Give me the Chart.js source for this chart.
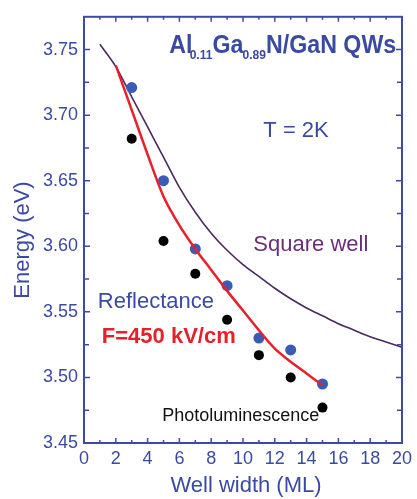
<!DOCTYPE html>
<html>
<head>
<meta charset="utf-8">
<script src="https://cdn.jsdelivr.net/npm/chart.js@4.4.1/dist/chart.umd.min.js"></script>
<style>
  html, body { margin: 0; padding: 0; background: #ffffff; }
  canvas { display: block; }
</style>
</head>
<body>
<canvas id="c" width="417" height="499"></canvas>
<script>
// ---- data ----
const wellWidths = [3, 5, 7, 9, 11, 13, 15];
const reflectance = [3.721, 3.650, 3.598, 3.570, 3.530, 3.521, 3.495];
const photoluminescence = [3.682, 3.604, 3.579, 3.544, 3.517, 3.500, 3.477];

const fitX = [2, 3, 4, 5, 6, 7, 8, 9, 10, 11, 12, 13, 14, 15];
const fitF450 = [3.738, 3.704, 3.670, 3.638, 3.616, 3.598, 3.582, 3.566, 3.551, 3.536, 3.522, 3.512, 3.503, 3.494];

const squareX = [1, 2, 3, 4, 5, 6, 7, 8, 9, 10, 11, 12, 13, 14, 15, 16, 17, 18, 19, 20];
const squareWell = [3.754, 3.737, 3.714, 3.691, 3.668, 3.645, 3.626, 3.610, 3.597, 3.586, 3.577, 3.568, 3.560, 3.553, 3.547, 3.541, 3.536, 3.531, 3.527, 3.523];

const xTicks = [0, 2, 4, 6, 8, 10, 12, 14, 16, 18, 20];
const xMinorTicks = [1, 3, 5, 7, 9, 11, 13, 15, 17, 19];
const yTicks = [3.45, 3.50, 3.55, 3.60, 3.65, 3.70, 3.75];
const yMinorTicks = [3.475, 3.525, 3.575, 3.625, 3.675, 3.725];

// ---- styles ----
const FONT = '"Liberation Sans", Arial, sans-serif';
const AXIS_BLUE = '#3e4ba6';
const TEXT_BLUE = '#3a4aa3';
const DOT_BLUE = '#3b5bb8';
const RED = '#e8202b';
const PURPLE = '#4b2a5e';
const PURPLE_TEXT = '#6a2d7c';

const pts = (xs, ys) => xs.map((x, i) => ({ x: x, y: ys[i] }));

const framePlugin = {
  id: 'frameAndText',
  afterDraw(chart) {
    const ctx = chart.ctx;
    const a = chart.chartArea;
    const xs = chart.scales.x, ys = chart.scales.y;
    ctx.save();
    // frame
    ctx.strokeStyle = AXIS_BLUE;
    ctx.lineWidth = 2;
    ctx.strokeRect(a.left, a.top, a.right - a.left, a.bottom - a.top);
    // inward ticks
    ctx.lineWidth = 1.5;
    ctx.beginPath();
    const hx = (v, len) => {
      const p = xs.getPixelForValue(v);
      ctx.moveTo(p, a.bottom); ctx.lineTo(p, a.bottom - len);
      ctx.moveTo(p, a.top); ctx.lineTo(p, a.top + len);
    };
    const vy = (v, len) => {
      const p = ys.getPixelForValue(v);
      ctx.moveTo(a.left, p); ctx.lineTo(a.left + len, p);
      ctx.moveTo(a.right, p); ctx.lineTo(a.right - len, p);
    };
    xTicks.forEach(v => hx(v, 5));
    xMinorTicks.forEach(v => hx(v, 3));
    yTicks.forEach(v => vy(v, 6));
    yMinorTicks.forEach(v => vy(v, 5));
    ctx.stroke();

    // axis titles
    ctx.fillStyle = TEXT_BLUE;
    ctx.font = '22px ' + FONT;
    ctx.textAlign = 'center';
    ctx.textBaseline = 'middle';
    ctx.fillText('Well width (ML)', (a.left + a.right) / 2 + 3, 486);
    ctx.save();
    ctx.translate(23, 240);
    ctx.rotate(-Math.PI / 2);
    ctx.fillText('Energy (eV)', 0, 0);
    ctx.restore();

    // annotations
    ctx.textAlign = 'left';
    ctx.textBaseline = 'alphabetic';
    const px = v => xs.getPixelForValue(v);
    const py = v => ys.getPixelForValue(v);

    // compound title
    const tx = px(5.36), ty = py(3.7477);
    const parts = [
      { t: 'Al', f: 'bold 25px ' + FONT, dy: 0, k: -3 },
      { t: '0.11', f: 'bold 13px ' + FONT, dy: 6, k: 0 },
      { t: 'Ga', f: 'bold 25px ' + FONT, dy: 0, k: -1 },
      { t: '0.89', f: 'bold 13px ' + FONT, dy: 6, k: 0 },
      { t: 'N/GaN QWs', f: 'bold 25px ' + FONT, dy: 0, k: 0 }
    ];
    let total = 0;
    parts.forEach(p => { ctx.font = p.f; p.w = ctx.measureText(p.t).width + p.k; total += p.w; });
    const sx = 227 / total;
    ctx.save();
    ctx.translate(tx, ty);
    ctx.scale(sx, 1);
    let cx = 0;
    ctx.fillStyle = TEXT_BLUE;
    parts.forEach(p => { ctx.font = p.f; ctx.fillText(p.t, cx, p.dy); cx += p.w; });
    ctx.restore();

    ctx.font = '22px ' + FONT;
    ctx.fillStyle = TEXT_BLUE;
    ctx.fillText('T = 2K', px(11.28), py(3.6835));
    ctx.fillText('Reflectance', px(0.87), py(3.553));
    ctx.fillStyle = PURPLE_TEXT;
    ctx.fillText('Square well', px(10.65), py(3.5965));
    ctx.font = 'bold 22px ' + FONT;
    ctx.fillStyle = RED;
    ctx.fillText('F=450 kV/cm', px(1.12), py(3.5266));
    ctx.font = '18px ' + FONT;
    ctx.fillStyle = '#111111';
    ctx.fillText('Photoluminescence', px(4.92), py(3.4664));
    ctx.restore();
  }
};

new Chart(document.getElementById('c'), {
  type: 'scatter',
  data: {
    datasets: [
      {
        label: 'F=450 kV/cm',
        type: 'line',
        data: pts(fitX, fitF450),
        borderColor: RED,
        borderWidth: 2.5,
        pointRadius: 0,
        tension: 0.3,
        fill: false,
        order: 0
      },
      {
        label: 'Reflectance',
        data: pts(wellWidths, reflectance),
        backgroundColor: DOT_BLUE,
        borderColor: DOT_BLUE,
        pointRadius: 5.5,
        borderWidth: 0,
        order: 1
      },
      {
        label: 'Photoluminescence',
        data: pts(wellWidths, photoluminescence),
        backgroundColor: '#000000',
        borderColor: '#000000',
        pointRadius: 5,
        borderWidth: 0,
        order: 2
      },
      {
        label: 'Square well',
        type: 'line',
        data: pts(squareX, squareWell),
        borderColor: PURPLE,
        borderWidth: 1.6,
        pointRadius: 0,
        cubicInterpolationMode: 'monotone',
        fill: false,
        order: 3
      }
    ]
  },
  options: {
    responsive: false,
    animation: false,
    layout: { padding: { top: 11, right: 12, left: 0, bottom: 0 } },
    plugins: { legend: { display: false }, tooltip: { enabled: false } },
    scales: {
      x: {
        type: 'linear',
        min: 0, max: 20,
        afterBuildTicks: s => { s.ticks = xTicks.map(v => ({ value: v })); },
        afterFit: s => { s.height = 56; },
        ticks: { font: { size: 18, family: FONT }, color: TEXT_BLUE, padding: 5, maxRotation: 0, autoSkip: false },
        grid: { display: false, drawTicks: false },
        border: { display: false }
      },
      y: {
        type: 'linear',
        min: 3.45, max: 3.775,
        afterBuildTicks: s => { s.ticks = yTicks.map(v => ({ value: v })); },
        afterFit: s => { s.width = 84; },
        ticks: { font: { size: 18, family: FONT }, color: TEXT_BLUE, padding: 6, autoSkip: false, callback: v => Number(v).toFixed(2) },
        grid: { display: false, drawTicks: false },
        border: { display: false }
      }
    }
  },
  plugins: [framePlugin]
});
</script>
</body>
</html>
